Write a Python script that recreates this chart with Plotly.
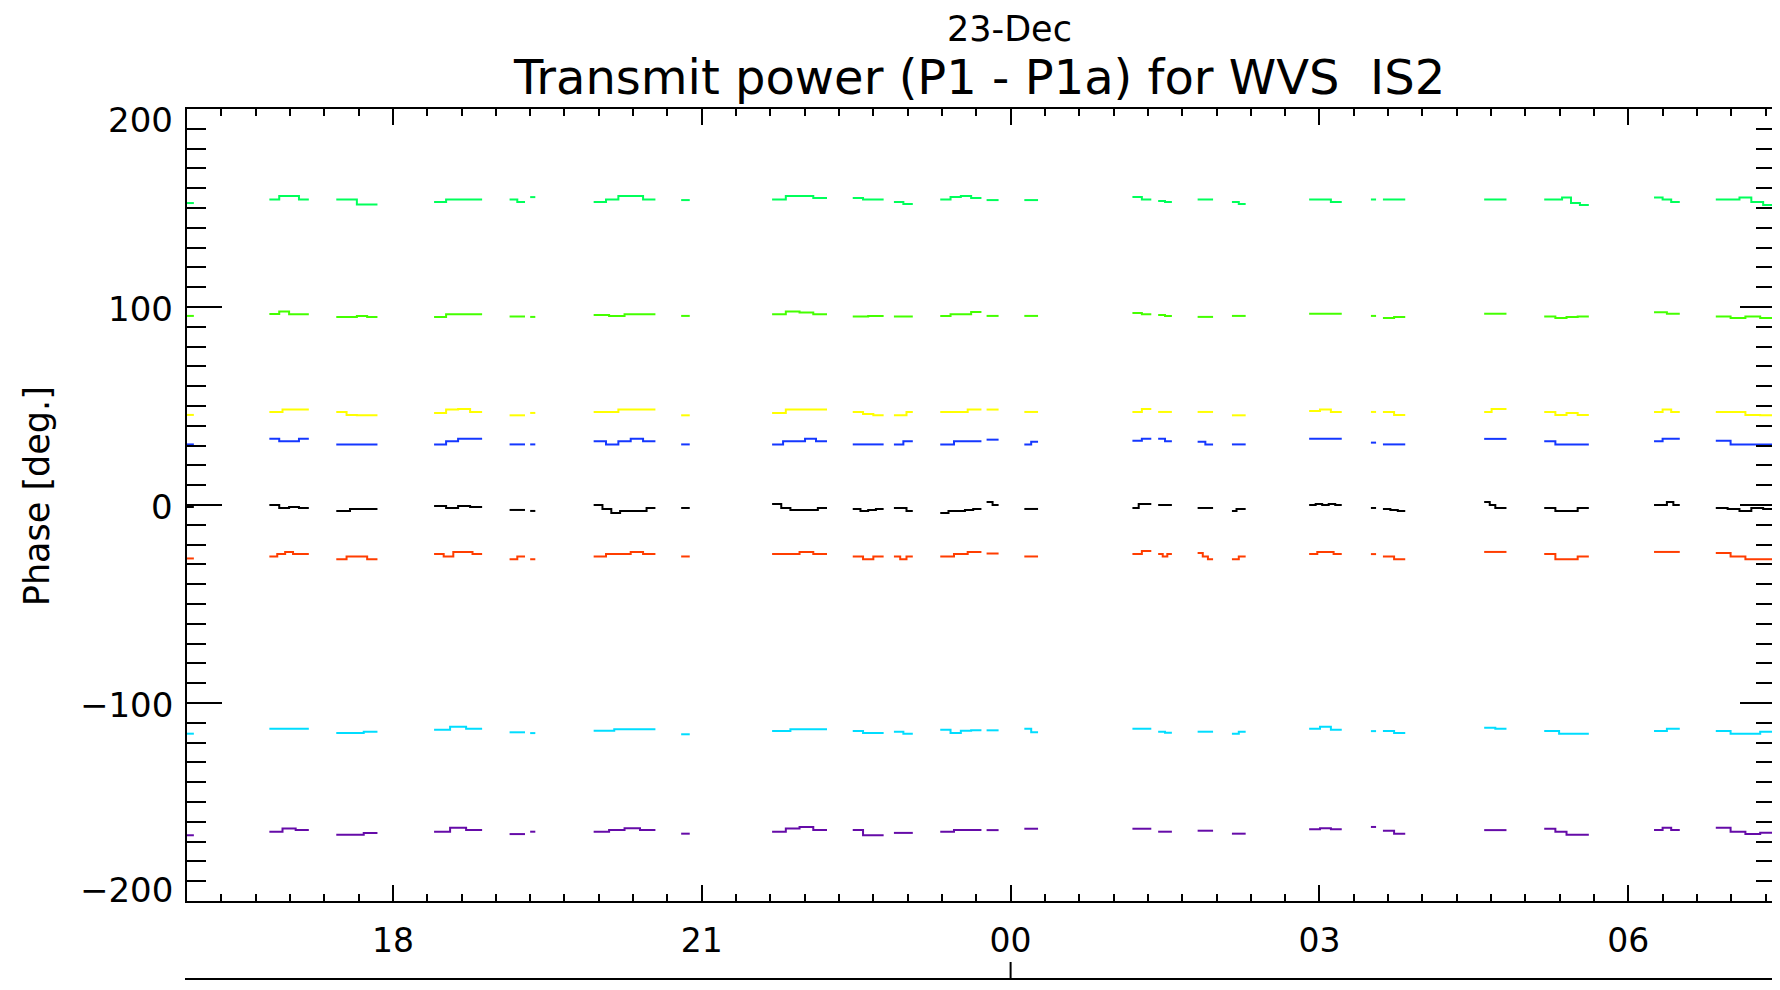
import plotly.graph_objects as go
import pandas as pd

# ---- data ----
# observation segments (start / end, HH:MM; hours < 12 belong to 23-Dec)
seg_start = ["16:00", "16:48", "17:27", "18:24", "19:08", "19:20", "19:57", "20:48",
             "21:41", "22:28", "22:52", "23:19", "23:46", "00:08", "01:11", "01:26",
             "01:49", "02:09", "02:54", "03:30", "03:37", "04:36", "05:11", "06:15", "06:51"]
seg_end = ["16:04", "17:11", "17:51", "18:52", "19:17", "19:23", "20:33", "20:53",
           "22:13", "22:46", "23:03", "23:43", "23:53", "00:16", "01:22", "01:34",
           "01:58", "02:17", "03:13", "03:33", "03:50", "04:49", "05:37", "06:30", "07:25:30"]

green1_vals = [[152.5], [154.3, 156, 156, 154.3], [154.3, 154.3, 151.8, 151.8], [153, 154.3, 154.3, 154.3],
               [154.3, 153], [155.5], [153, 154.3, 156, 156, 154.3], [154],
               [154.3, 156, 156, 155], [155, 154.3, 154.3], [153, 152], [154.3, 155.5, 156, 155],
               [154], [154], [155.5, 154.3], [153.5, 153], [154.3], [153, 152],
               [154.3, 154.3, 153], [154.3], [154.3], [154.3], [154.3, 154.3, 155.3, 152.5, 151.5],
               [155.3, 154.3, 153], [154.3, 154.3, 155.3, 153, 151.5]]
green2_vals = [[95.5], [96.5, 97.7, 96.4, 96.4], [95, 95, 95.5, 95], [95, 96.4, 96.4, 96.4],
               [95.2], [95], [96, 95.5, 96.4, 96.4], [95.5],
               [96.4, 97.7, 97.2, 96.4], [95.2, 95.5], [95.2], [95.5, 96.4, 96.4, 97.5],
               [95.5], [95.5], [97, 96.4], [96, 95.5], [95], [95.5],
               [96.6], [95.5], [94.5, 95], [96.6], [95.2, 94.5, 95, 95.2],
               [97.4, 96.6], [95.2, 94.5, 95.2, 94.5]]
yellow_vals = [[45.5], [47, 48.2, 48.2], [47, 45.5, 45.3, 45.3], [46.5, 48.2, 48.5, 47],
               [45.3], [46.5], [47, 47, 48.2, 48.2, 48.2], [45.3],
               [46.5, 48.2, 48.2, 48.2], [47, 46, 45.3], [45.3, 45.3, 47], [47, 47, 48.2],
               [48.2], [47], [47, 48.5], [47], [47], [45.3],
               [47.5, 48.2, 47], [47], [47, 45.5], [47, 48.5, 48.5], [47, 45.5, 46.5, 45.5],
               [47, 48.2, 47], [47, 47, 45.5, 45.3]]
blue_vals = [[30.6], [33.4, 32.2, 32.2, 33.4], [30.6], [30.6, 32.2, 33.4, 33.4],
             [30.6], [30.6], [32.2, 30.6, 32.2, 33.4, 32.2], [30.6],
             [30.6, 32.2, 32.2, 33.4, 32.2], [30.6], [30.6, 32.2], [30.6, 32.2, 32.2],
             [33], [30.6, 32], [32.5, 33.4], [33.4, 32.2], [32, 30.6], [30.6],
             [33.4], [31.5], [30.6], [33.4], [32.2, 30.6, 30.6, 30.6],
             [32.2, 33.4, 33.4], [32.5, 30.6, 30.6, 30.6]]
black_vals = [[-1], [0, -1.5, -1, -1.5], [-3, -2, -2], [-0.5, -1.5, -0.5, -1],
              [-2.5], [-3], [0, -2, -4, -3, -3, -3, -1.5], [-1.5],
              [0.5, -1.5, -2.5, -2.5, -2.5, -1.5], [-2, -3, -2.5, -2], [-1.5, -1.5, -3], [-4, -3, -3, -2.5, -2],
              [1.5, 0], [-2], [-1.5, 0.5, 0.5], [0], [-1.5], [-3, -2, -2],
              [0, 0.5, 0, 0.5, 0], [-1.5], [-2, -2.5, -3], [1.5, 0, -1.5, -1.5], [-1.5, -3, -3, -1.5],
              [0, 0, 1.5, 0], [-1.5, -2, -3, -1.5, -2]]
orange_vals = [[-27], [-26, -24.8, -23.7, -24.8, -24.8], [-27.4, -26, -26, -27.4], [-24.8, -26, -23.7, -23.7, -24.8],
               [-27.4, -26], [-27.4], [-26, -24.8, -24.8, -23.7, -24.8], [-26],
               [-24.8, -24.8, -23.7, -24.8], [-26, -27.4, -26], [-26, -27.4, -26], [-26, -24.8, -23.7],
               [-24.5], [-26], [-24.8, -23.2], [-24.8, -26, -24.8], [-24.3, -26, -27.4], [-27.4, -26],
               [-24.8, -23.7, -23.7, -24.8], [-24.8], [-26, -27.4], [-23.7], [-24.8, -27.4, -27.4, -26],
               [-23.7], [-24.3, -26, -27.4, -27.4]]
cyan_vals = [[-115.5], [-113, -113, -113], [-115.2, -115.2, -114.5], [-113.5, -112, -113],
             [-114.8], [-115.2], [-114, -113.3, -113.3], [-115.8],
             [-114.2, -113.2, -113.2], [-114.2, -115.2, -115.2], [-114.5, -115.5], [-113.5, -115.2, -114, -113.8],
             [-113.8], [-113, -114.8], [-113, -113], [-114.5, -115], [-114.5], [-115.5, -114.5],
             [-113, -112, -113.5], [-114.2], [-114.2, -115.2], [-112.5, -113], [-114.2, -115.5, -115.5],
             [-114.2, -113], [-114.2, -115.5, -115.5, -114.5]]
purple_vals = [[-166.8], [-165, -163.4, -164.2], [-166.5, -166.5, -165.6], [-165, -163, -164.2],
               [-166.2], [-165], [-165, -164.2, -163.2, -164.2], [-166],
               [-165, -163.4, -162.6, -164.2], [-164.2, -166.8, -166.8], [-165.6, -165.6], [-165, -164.2, -164.2],
               [-164.2], [-163.5], [-163.5], [-165], [-164.5], [-166],
               [-163.8, -163.2, -163.8], [-162.6], [-164.5, -166], [-164.2], [-163.5, -165, -166.5, -166.5],
               [-164.2, -163, -164.2], [-163, -165, -166.2, -165.5]]

series_names = ["ch1", "ch2", "ch3", "ch4", "ch5", "ch6", "ch7", "ch8"]
series_vals = [green1_vals, green2_vals, yellow_vals, blue_vals, black_vals, orange_vals, cyan_vals, purple_vals]
series_colors = ["#00FF5A", "#44FF00", "#FFFF00", "#1437FF", "#000000", "#FF3D00", "#00DDFF", "#650BA8"]

x_range = ["2008-12-22 16:00", "2008-12-23 07:25:30"]


def to_ts(hm):
    h = int(hm.split(":")[0])
    day = "2008-12-23" if h < 12 else "2008-12-22"
    return pd.Timestamp(f"{day} {hm}")


def build(vals):
    xs, ys = [], []
    for s, e, v in zip(seg_start, seg_end, vals):
        t0, t1 = to_ts(s), to_ts(e)
        n = len(v)
        for k, val in enumerate(v):
            xs.append(t0 + (t1 - t0) * k / n)
            ys.append(val)
        xs.append(t1)
        ys.append(v[-1])
        xs.append(None)
        ys.append(None)
    return xs, ys


FONT = "DejaVu Sans"
fig = go.Figure()
for name, vals, col in zip(series_names, series_vals, series_colors):
    xs, ys = build(vals)
    fig.add_trace(go.Scatter(x=xs, y=ys, mode="lines", name=name,
                             line=dict(color=col, width=2, shape="hv"),
                             connectgaps=False, showlegend=False))

# page offset of the figure (body margin) is compensated below
OFF = 8
W, H = 1780, 990
box_l, box_r, box_t, box_b = 187, 1777, 109, 901   # plot box in page pixels
L, T = box_l - OFF, box_t - OFF
R = W - (box_r - OFF)
B = H - (box_b - OFF)
pw, ph = W - L - R, H - T - B


def px(xp):
    return (xp - box_l) / pw


def py(yp):
    return (box_b - yp) / ph


fig.update_layout(
    width=W, height=H,
    margin=dict(l=L, r=R, t=T, b=B),
    paper_bgcolor="white", plot_bgcolor="white",
    font=dict(family=FONT, color="black", size=33),
    showlegend=False,
)
fig.update_xaxes(
    type="date", range=x_range,
    tick0="2008-12-22 18:00", dtick=3 * 3600 * 1000, tickformat="%H",
    ticks="inside", ticklen=16, tickwidth=2, tickcolor="black",
    minor=dict(dtick=20 * 60 * 1000, ticks="inside", ticklen=7, tickwidth=2, tickcolor="black", showgrid=False),
    showline=True, linewidth=2, linecolor="black", mirror="ticks",
    showgrid=False, zeroline=False,
    tickfont=dict(family=FONT, size=33, color="black"),
    ticklabelstandoff=9,
)
fig.update_yaxes(
    range=[-200, 200], tickvals=[-200, -100, 0, 100, 200], showticklabels=False,
    ticks="inside", ticklen=35, tickwidth=2, tickcolor="black",
    minor=dict(dtick=10, ticks="inside", ticklen=19, tickwidth=2, tickcolor="black", showgrid=False),
    showline=True, linewidth=2, linecolor="black", mirror="ticks",
    showgrid=False, zeroline=False,
)

# y tick labels (IDL places the end labels slightly inside the box)
ytick_vals = [200, 100, 0, -100, -200]
ytick_text = ["200", "100", "0", "\u2212100", "\u2212200"]
ytick_shift = [-11, -2, -2, -2, 11]
for v, t, s in zip(ytick_vals, ytick_text, ytick_shift):
    fig.add_annotation(x=0, xref="paper", y=v, yref="y", text=t, showarrow=False,
                       xanchor="right", yanchor="middle", xshift=-12, yshift=s,
                       font=dict(family=FONT, size=34, color="black"))

# axis title
fig.add_annotation(x=px(37), xref="paper", y=py(496), yref="paper",
                   text="Phase [deg.]", textangle=-90, showarrow=False,
                   xanchor="center", yanchor="middle",
                   font=dict(family=FONT, size=35, color="black"))

# titles
fig.add_annotation(x=px(1011), xref="paper", y=py(29), yref="paper",
                   text="23-Dec", showarrow=False, xanchor="center", yanchor="middle",
                   font=dict(family=FONT, size=35, color="black"))
fig.add_annotation(x=px(980), xref="paper", y=py(77), yref="paper",
                   text="Transmit power (P1 - P1a) for WVS  IS2", showarrow=False,
                   xanchor="center", yanchor="middle",
                   font=dict(family=FONT, size=48, color="black"))

# second-level date axis line below the hour labels
y_line = py(979)
y_tick = py(962)
fig.add_shape(type="line", xref="paper", yref="paper", x0=px(185), x1=1.0,
              y0=y_line, y1=y_line, line=dict(color="black", width=2))
fig.add_shape(type="line", xref="x", yref="paper", x0="2008-12-23 00:00", x1="2008-12-23 00:00",
              y0=y_line, y1=y_tick, line=dict(color="black", width=2))

fig.write_html("out.html")
